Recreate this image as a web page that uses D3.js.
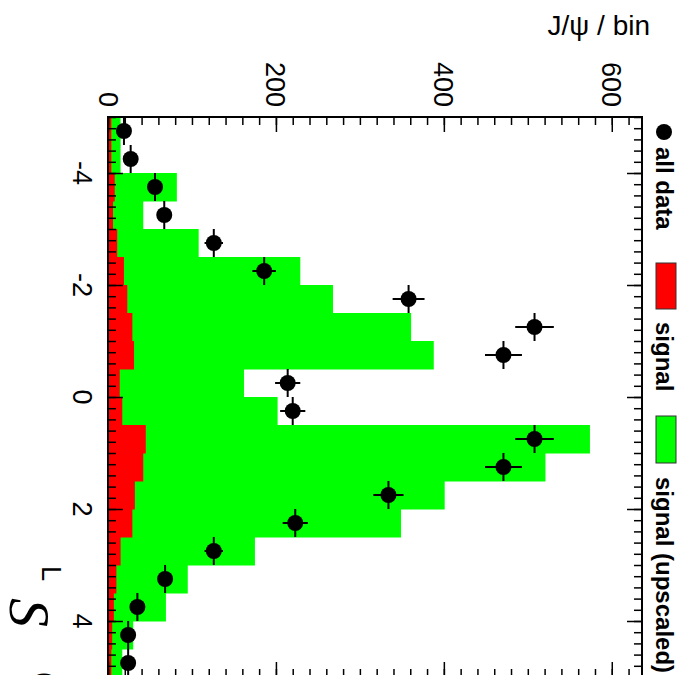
<!DOCTYPE html>
<meta charset="utf-8">
<style>
body { margin: 0; background: #fff; }
text { font-family: "Liberation Sans", Arial, sans-serif; }
.leg { font-weight: bold; font-size: 24px; }
</style>
<svg width="686" height="675"></svg>
<script src="https://d3js.org/d3.v7.min.js"></script>
<script>

// bins of S_L (width 0.5), lower edges
var binLow = [-5, -4.5, -4, -3.5, -3, -2.5, -2, -1.5, -1, -0.5,
              0, 0.5, 1, 1.5, 2, 2.5, 3, 3.5, 4, 4.5];
var binWidth = 0.5;

// J/psi per bin
var allData  = [19, 27, 56, 67, 126, 186, 358, 508, 471, 214,
                220, 508, 471, 334, 223, 126, 68, 35, 24, 24];
var allErr   = [4, 5, 7, 8, 11, 14, 19, 23, 22, 15,
                15, 23, 22, 18, 15, 11, 8, 6, 5, 5];
var signal   = [4, 4, 8, 6, 11, 19, 23, 29, 31, 14,
                17, 45, 42, 32, 29, 15, 10, 7, 5, 4];
var signalUp = [15, 15, 82, 42, 108, 229, 268, 361, 388, 162,
                202, 574, 521, 401, 349, 175, 95, 69, 30, 17];

var valueTicks = [0, 200, 400, 600];
var sTicks = [-4, -2, 0, 2, 4];

var svg = d3.select("svg");

// plot is drawn rotated: S_L runs downwards, counts run to the right
var fx0 = 108, fx1 = 642, fy0 = 117, fy1 = 677;
var v = d3.scaleLinear().domain([0, 636]).range([fx0, fx1]);
var s = d3.scaleLinear().domain([-5, 5]).range([fy0, fy1]);

function hist(vals, color) {
  svg.append("g").selectAll("rect")
    .data(vals)
    .enter().append("rect")
      .attr("x", v(0))
      .attr("y", function(d, i) { return s(binLow[i]); })
      .attr("width", function(d) { return v(d) - v(0); })
      .attr("height", s(binWidth) - s(0) + 0.5)
      .attr("fill", color);
}
hist(signalUp, "#00ff00");
hist(signal, "#ff0000");

// data points
var pts = svg.append("g").selectAll("g")
  .data(allData)
  .enter().append("g")
    .attr("transform", function(d, i) {
      return "translate(" + v(d) + "," + s(binLow[i] + binWidth / 2) + ")";
    });
pts.append("line")
    .attr("x1", function(d, i) { return v(d - allErr[i]) - v(d); })
    .attr("x2", function(d, i) { return v(d + allErr[i]) - v(d); })
    .attr("stroke", "#000").attr("stroke-width", 2);
pts.append("line")
    .attr("y1", s(-binWidth / 2) - s(0))
    .attr("y2", s(binWidth / 2) - s(0))
    .attr("stroke", "#000").attr("stroke-width", 2);
pts.append("circle").attr("r", 8).attr("fill", "#000");

// ticks (all pointing into the frame)
var vMinor = d3.range(0, 637, 20), sMinor = d3.range(-5, 5.01, 0.2);
function ticks(axis, pos, vals, len) {
  var g = svg.append("g").attr("transform", pos)
    .call(axis.tickValues(vals).tickSize(len).tickFormat(""));
  g.select(".domain").remove();
  g.selectAll("line").attr("stroke", "#000").attr("stroke-width", 1.5);
}
ticks(d3.axisBottom(v), "translate(0," + fy0 + ")", vMinor, 8);
ticks(d3.axisBottom(v), "translate(0," + fy0 + ")", valueTicks, 15);
ticks(d3.axisTop(v), "translate(0," + fy1 + ")", vMinor, 8);
ticks(d3.axisTop(v), "translate(0," + fy1 + ")", valueTicks, 15);
ticks(d3.axisRight(s), "translate(" + fx0 + ",0)", sMinor, 8);
ticks(d3.axisRight(s), "translate(" + fx0 + ",0)", sTicks, 15);
ticks(d3.axisLeft(s), "translate(" + fx1 + ",0)", sMinor, 8);
ticks(d3.axisLeft(s), "translate(" + fx1 + ",0)", sTicks, 15);

svg.append("rect")
    .attr("x", fx0).attr("y", fy0)
    .attr("width", fx1 - fx0).attr("height", fy1 - fy0)
    .attr("fill", "none").attr("stroke", "#000").attr("stroke-width", 2);

// tick labels, rotated
svg.append("g").selectAll("text")
  .data(valueTicks)
  .enter().append("text")
    .attr("transform", function(d) { return "translate(" + v(d) + ",107) rotate(90)"; })
    .attr("text-anchor", "end")
    .attr("dy", "0.35em")
    .style("font-size", "27px")
    .text(function(d) { return d; });

svg.append("g").selectAll("text")
  .data(sTicks)
  .enter().append("text")
    .attr("transform", function(d) { return "translate(73," + s(d) + ") rotate(90)"; })
    .attr("text-anchor", "middle")
    .style("font-size", "27px")
    .text(function(d) { return d; });

// axis titles
svg.append("text")
    .attr("x", 650).attr("y", 35)
    .attr("text-anchor", "end")
    .style("font-size", "28px")
    .text("J/\u03c8 / bin");

svg.append("text")
    .attr("transform", "translate(42,566) rotate(90)")
    .style("font-size", "27px")
    .text("L");
svg.append("text")
    .attr("transform", "translate(10,598) rotate(90)")
    .style("font-family", "'Liberation Serif', serif")
    .style("font-style", "italic")
    .style("font-size", "58px")
    .text("S");
svg.append("text")
    .attr("transform", "translate(38,672) rotate(90)")
    .style("font-size", "24px")
    .text("(");

// legend
svg.append("circle").attr("cx", 664).attr("cy", 132).attr("r", 8).attr("fill", "#000");
svg.append("rect").attr("x", 656).attr("y", 263).attr("width", 20).attr("height", 46)
    .attr("fill", "#ff0000").attr("stroke", "#333").attr("stroke-width", 1);
svg.append("rect").attr("x", 656).attr("y", 416).attr("width", 20).attr("height", 47)
    .attr("fill", "#00ff00").attr("stroke", "#333").attr("stroke-width", 1);

var legText = [["all data", 147], ["signal", 322], ["signal (upscaled)", 477]];
svg.append("g").selectAll("text")
  .data(legText)
  .enter().append("text")
    .attr("class", "leg")
    .attr("transform", function(d) { return "translate(656," + d[1] + ") rotate(90)"; })
    .text(function(d) { return d[0]; });

</script>
